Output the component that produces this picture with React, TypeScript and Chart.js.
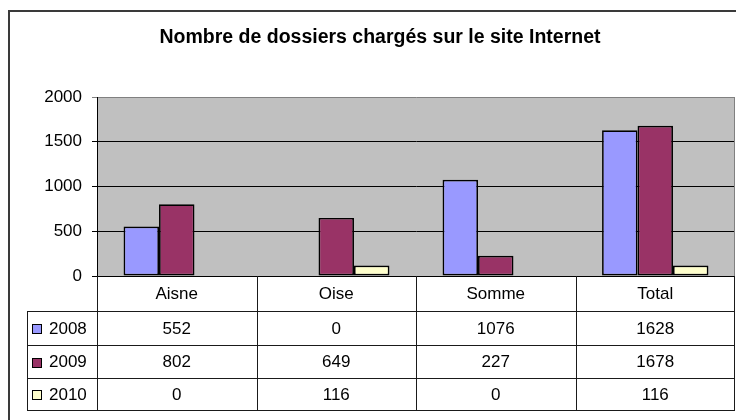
import React, { useEffect, useRef } from "react";
import { Chart, registerables } from "chart.js";

Chart.register(...registerables);

const title = "Nombre de dossiers chargés sur le site Internet";
const categories = ["Aisne", "Oise", "Somme", "Total"];
const seriesLabels = ["2008", "2009", "2010"];
const values2008 = [552, 0, 1076, 1628];
const values2009 = [802, 649, 227, 1678];
const values2010 = [0, 116, 0, 116];
const seriesColors = ["#9999FF", "#993366", "#FFFFCC"];
const yMin = 0;
const yMax = 2000;
const yStep = 500;

const FONT = '"Liberation Sans", Arial, sans-serif';

const excelPlugin = {
  id: "excelLook",
  beforeDraw(chart: any) {
    const { ctx, chartArea: a } = chart;
    ctx.save();
    ctx.fillStyle = "#ffffff";
    ctx.fillRect(0, 0, chart.width, chart.height);
    ctx.fillStyle = "#C0C0C0";
    ctx.fillRect(a.left, a.top, a.right - a.left, a.bottom - a.top);
    ctx.restore();
  },
  afterDraw(chart: any) {
    const { ctx, chartArea: a } = chart;
    const xs = chart.scales.x;
    ctx.save();

    // outer border
    ctx.strokeStyle = "#3a3a3a";
    ctx.lineWidth = 2;
    ctx.strokeRect(9, 11, 900, 900);

    // title
    ctx.fillStyle = "#000";
    ctx.font = `bold 19.5px ${FONT}`;
    ctx.textAlign = "center";
    ctx.textBaseline = "alphabetic";
    ctx.fillText(title, 380, 43);

    // plot right border
    ctx.strokeStyle = "#808080";
    ctx.lineWidth = 1;
    ctx.beginPath();
    ctx.moveTo(Math.round(a.right) - 0.5, a.top);
    ctx.lineTo(Math.round(a.right) - 0.5, a.bottom);
    ctx.stroke();

    // data table
    const n = categories.length;
    const catW = (a.right - a.left) / n;
    const rowTop = Math.round(a.bottom);
    const rows = [rowTop, 311, 345, 378, 410];
    const legendLeft = 27;

    ctx.strokeStyle = "#1a1a1a";
    ctx.lineWidth = 1;
    ctx.beginPath();
    for (let i = 0; i <= n; i++) {
      const x = Math.round(a.left + i * catW) + (i === n ? -0.5 : 0.5);
      ctx.moveTo(x, rowTop);
      ctx.lineTo(x, rows[4]);
    }
    ctx.moveTo(legendLeft + 0.5, rows[1]);
    ctx.lineTo(legendLeft + 0.5, rows[4]);
    for (let r = 1; r < rows.length; r++) {
      ctx.moveTo(legendLeft, rows[r] + 0.5);
      ctx.lineTo(Math.round(a.right), rows[r] + 0.5);
    }
    ctx.stroke();

    ctx.font = `17px ${FONT}`;
    ctx.textAlign = "center";
    ctx.textBaseline = "middle";
    ctx.fillStyle = "#000";
    categories.forEach((c, i) => {
      ctx.fillText(c, xs.getPixelForValue(i), (rows[0] + rows[1]) / 2 + 1);
    });

    chart.data.datasets.forEach((ds: any, d: number) => {
      const yMid = (rows[d + 1] + rows[d + 2]) / 2 + 1;
      ctx.fillStyle = ds.backgroundColor;
      ctx.fillRect(32, Math.round(yMid) - 5, 10, 10);
      ctx.strokeStyle = "#000";
      ctx.lineWidth = 1;
      ctx.strokeRect(32.5, Math.round(yMid) - 4.5, 9, 9);
      ctx.fillStyle = "#000";
      ctx.textAlign = "left";
      ctx.fillText(ds.label, 49, yMid);
      ctx.textAlign = "center";
      ds.data.forEach((v: number, i: number) => {
        ctx.fillText(String(v), xs.getPixelForValue(i), yMid);
      });
    });

    ctx.restore();
  },
};

export default function App() {
  const ref = useRef<HTMLCanvasElement | null>(null);

  useEffect(() => {
    if (!ref.current) return;
    const datasets = [values2008, values2009, values2010].map((vals, i) => ({
      label: seriesLabels[i],
      data: vals,
      backgroundColor: seriesColors[i],
      borderColor: "#000000",
      borderWidth: 1.7,
      borderSkipped: false,
    }));
    const chart = new Chart(ref.current, {
      type: "bar",
      data: { labels: categories, datasets },
      options: {
        animation: false,
        responsive: false,
        devicePixelRatio: 1,
        layout: { padding: { left: 0, top: 97, right: 1, bottom: 144 } },
        plugins: {
          legend: { display: false },
          title: { display: false },
          tooltip: { enabled: false },
        },
        datasets: {
          bar: { categoryPercentage: 0.667, barPercentage: 1 },
        },
        scales: {
          x: { display: false, offset: true },
          y: {
            min: yMin,
            max: yMax,
            ticks: {
              stepSize: yStep,
              color: "#000",
              padding: 10,
              font: { family: FONT, size: 17 },
              callback: (v: any) => String(v),
            },
            grid: {
              color: (c: any) => (c.tick && c.tick.value === yMax ? "#808080" : "#000000"),
              lineWidth: 1,
              tickLength: 5,
              drawTicks: true,
            },
            border: { display: true, color: "#000", width: 1 },
            afterFit: (scale: any) => {
              scale.width = 97;
            },
          },
        },
      },
      plugins: [excelPlugin],
    });
    return () => chart.destroy();
  }, []);

  return (
    <div style={{ position: "absolute", left: 0, top: 0, width: 736, height: 420 }}>
      <canvas ref={ref} width={736} height={420} style={{ display: "block" }} />
    </div>
  );
}
